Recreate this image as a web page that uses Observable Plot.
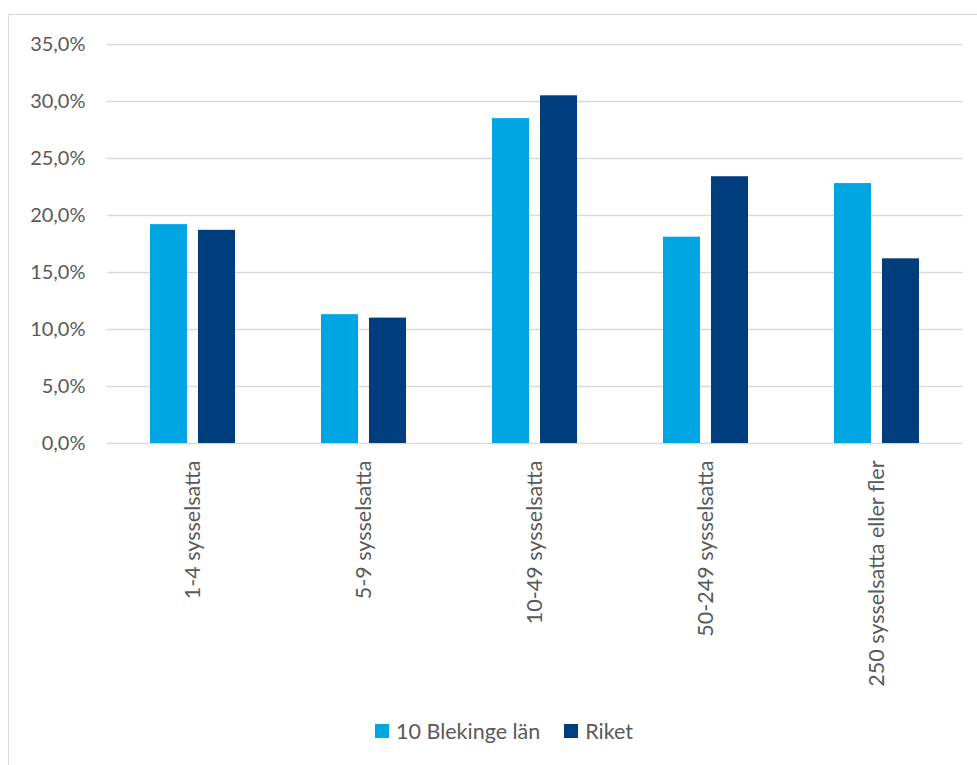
<!DOCTYPE html>
<html>
<head>
<meta charset="utf-8">
<script src="https://cdn.jsdelivr.net/npm/d3@7"></script>
<script src="https://cdn.jsdelivr.net/npm/@observablehq/plot@0.6"></script>
<style>
  html, body { margin: 0; padding: 0; background: #fff; }
  #wrap { position: relative; width: 977px; height: 765px; overflow: hidden; font-family: Lato, "Liberation Sans", sans-serif; }
  #frame { position: absolute; left: 8px; top: 14px; width: 1000px; height: 800px; border-left: 1.5px solid #d9d9d9; border-top: 1.5px solid #d9d9d9; }
  .layer { position: absolute; left: 0; top: 0; }
  #legend { position: absolute; top: 718px; left: 375px; display: flex; align-items: center; font-size: 21.5px; color: #595959; white-space: nowrap; }
  .item { display: flex; align-items: center; margin-right: 24px; }
  .sw { width: 14px; height: 14px; margin-right: 7px; }
</style>
</head>
<body>
<div id="wrap">
  <div id="frame"></div>
  <div id="bg" class="layer"></div>
  <div id="fg" class="layer"></div>
  <div id="legend"></div>
</div>
<script>
const categories = ["1-4 sysselsatta", "5-9 sysselsatta", "10-49 sysselsatta", "50-249 sysselsatta", "250 sysselsatta eller fler"];
const seriesNames = ["10 Blekinge län", "Riket"];
const blekinge = [0.192, 0.113, 0.285, 0.181, 0.228];
const riket = [0.187, 0.110, 0.305, 0.234, 0.162];
const colors = ["#00A6E2", "#003D7C"];
const yTicks = [0, 0.05, 0.10, 0.15, 0.20, 0.25, 0.30, 0.35];

const data = [];
categories.forEach((c, i) => {
  data.push({cat: c, series: seriesNames[0], value: blekinge[i]});
  data.push({cat: c, series: seriesNames[1], value: riket[i]});
});

const fmt = d => (d * 100).toFixed(1).replace(".", ",") + "%";

const common = {
  width: 977,
  height: 700,
  marginLeft: 107,
  marginRight: 14.5,
  marginTop: 44,
  marginBottom: 257,
  style: {fontFamily: "Lato, 'Liberation Sans', sans-serif", fontSize: "20px", color: "#595959", background: "transparent"}
};

// Background layer: gridlines and y axis spanning the full plot width
const bg = Plot.plot({
  ...common,
  x: {type: "band", domain: categories, axis: null},
  y: {domain: [0, 0.35], label: null},
  marks: [
    Plot.gridY(yTicks, {stroke: "#d9d9d9", strokeOpacity: 1, strokeWidth: 1.5}),
    Plot.axisY(yTicks, {tickFormat: fmt, tickSize: 0, tickPadding: 22, label: null, fill: "#595959", fontSize: 20})
  ]
});
document.getElementById("bg").appendChild(bg);

// Foreground layer: grouped bars and category labels
const fg = Plot.plot({
  ...common,
  fx: {domain: categories, paddingInner: 0.49, paddingOuter: 0.245, label: null},
  x: {domain: seriesNames, paddingInner: 0.224, paddingOuter: 0, axis: null},
  y: {domain: [0, 0.35], label: null, axis: null},
  color: {domain: seriesNames, range: colors},
  marks: [
    Plot.barY(data, {fx: "cat", x: "series", y: "value", fill: "series"}),
    Plot.axisFx({anchor: "bottom", tickRotate: -90, tickSize: 0, tickPadding: 17, label: null, fill: "#595959", fontSize: 21.5})
  ]
});
document.getElementById("fg").appendChild(fg);

const legend = document.getElementById("legend");
seriesNames.forEach((s, i) => {
  const it = document.createElement("div");
  it.className = "item";
  it.innerHTML = `<span class="sw" style="background:${colors[i]}"></span><span>${s}</span>`;
  legend.appendChild(it);
});
</script>
</body>
</html>
